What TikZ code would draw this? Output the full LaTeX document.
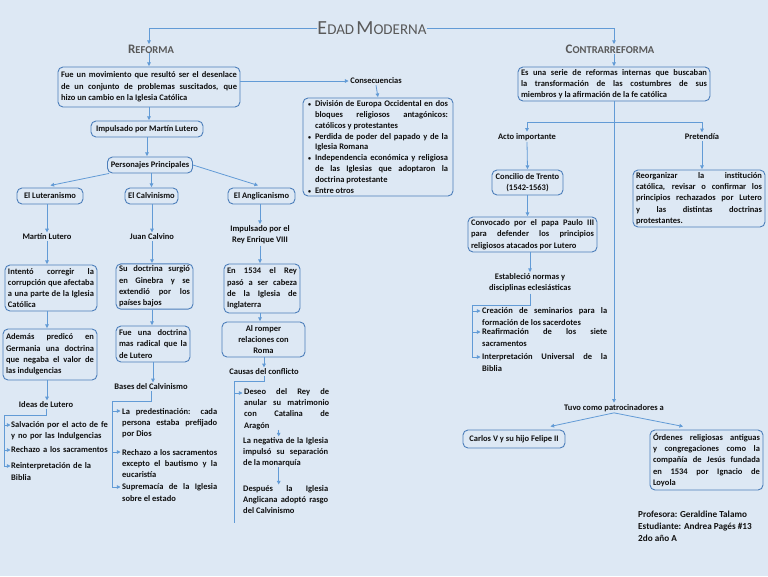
\documentclass[tikz,border=0pt]{standalone}
\usepackage{fontspec}
\setmainfont{Carlito}
\usetikzlibrary{arrows.meta,calc}
\definecolor{bgc}{RGB}{221,232,244}
\definecolor{boxc}{RGB}{76,126,186}
\definecolor{arc}{RGB}{98,155,214}
\definecolor{titc}{RGB}{89,89,89}
\definecolor{txc}{RGB}{15,15,15}
\newcommand{\bodyf}{\fontsize{8.5}{11.3}\selectfont\bfseries\hyphenpenalty=10000\tolerance=10000\emergencystretch=20pt}
\newcommand{\consf}{\fontsize{8.5}{10.8}\selectfont\bfseries\hyphenpenalty=10000\tolerance=10000}
\newcommand{\bitem}[1]{\hangindent=7pt\hangafter=1\noindent\makebox[7pt][l]{\fontsize{6}{6}\selectfont•}#1\par}
\newcommand{\bigC}[2]{{\fontsize{#1}{#1}\selectfont #2}}
\begin{document}
\begin{tikzpicture}[x=1pt,y=-1pt,
  bx/.style={draw=boxc, line width=0.9pt, rounded corners=5pt, inner xsep=3pt, inner ysep=2pt, font=\bodyf, text=txc, align=center},
  jb/.style={bx, align=justify},
  tx/.style={inner sep=1pt, font=\bodyf, text=txc, align=center},
  lt/.style={inner sep=0pt, font=\bodyf, text=txc, align=justify, anchor=west},
  ar/.style={draw=arc, line width=0.8pt, -{Triangle[length=3.6pt,width=3.6pt]}, shorten >=0.5pt},
  ln/.style={draw=arc, line width=0.8pt}]
\fill[bgc] (0,0) rectangle (768,576);
\useasboundingbox (0,0) rectangle (768,576);

% titles
\node[inner sep=0pt, text=titc] (title) at (372,28) {\bigC{20}{E}\bigC{15}{DAD} \bigC{20}{M}\bigC{15}{ODERNA}};
\node[inner sep=0pt, text=titc, font=\bfseries] (reforma) at (151,49) {\bigC{13}{R}\bigC{10.5}{EFORMA}};
\node[inner sep=0pt, text=titc, font=\bfseries] (contra) at (610,49) {\bigC{13}{C}\bigC{10.5}{ONTRARREFORMA}};

% left part
\node[jb, text width=176pt, minimum height=40pt] (b1) at (149,87) {Fue un movimiento que resultó ser el desenlace\linebreak de un conjunto de problemas suscitados, que\linebreak hizo un cambio en la Iglesia Católica};
\node[tx] (conslbl) at (376,81) {Consecuencias};
\node[bx, align=justify, inner xsep=5pt, text width=140pt, minimum height=98pt, font=\consf] (cb) at (378,147) {%
\bitem{División de Europa Occidental en dos\linebreak bloques religiosos antagónicos:\linebreak católicos y protestantes}%
\bitem{Perdida de poder del papado y de la\linebreak Iglesia Romana}%
\bitem{Independencia económica y religiosa\linebreak de las Iglesias que adoptaron la\linebreak doctrina protestante}%
\bitem{Entre otros}};
\node[bx, minimum width=112pt, minimum height=16pt, inner ysep=1pt] (imp) at (147,129) {Impulsado por Martín Lutero};
\node[bx, minimum width=85pt, minimum height=16pt, inner ysep=1pt] (per) at (150,165) {Personajes Principales};
\node[bx, minimum width=66pt, minimum height=16pt, inner ysep=1pt] (lut) at (50,196) {El Luteranismo};
\node[bx, minimum width=53pt, minimum height=16pt, inner ysep=1pt] (cal) at (151.5,196) {El Calvinismo};
\node[bx, minimum width=67pt, minimum height=16pt, inner ysep=1pt] (ang) at (261.5,196) {El Anglicanismo};
\node[tx] (martin) at (47,237) {Martín Lutero};
\node[tx] (juan) at (152,237) {Juan Calvino};
\node[tx] (enrique) at (260,235) {Impulsado por el\\Rey Enrique VIII};
\node[jb, text width=86pt, minimum height=46pt] (intento) at (51,288) {Intentó corregir la\linebreak corrupción que afectaba\linebreak a una parte de la Iglesia\linebreak Católica};
\node[jb, text width=71pt, minimum height=45pt] (sudoc) at (154.5,286.5) {Su doctrina surgió\linebreak en Ginebra y se\linebreak extendió por los\linebreak países bajos};
\node[jb, text width=70pt, minimum height=49pt] (en1534) at (262,288.5) {En 1534 el Rey\linebreak pasó a ser cabeza\linebreak de la Iglesia de\linebreak Inglaterra};
\node[jb, text width=88pt, minimum height=51pt] (ademas) at (50,354.5) {Además predicó en\linebreak Germania una doctrina\linebreak que negaba el valor de\linebreak las indulgencias};
\node[jb, text width=68pt, minimum height=36pt] (fueuna) at (153,344) {Fue una doctrina\linebreak mas radical que la\linebreak de Lutero};
\node[bx, minimum width=83pt, minimum height=35pt] (romper) at (263.5,339.5) {Al romper\\relaciones con\\Roma};
\node[tx] (ideas) at (46,405) {Ideas de Lutero};
\node[tx] (bases) at (151,387) {Bases del Calvinismo};
\node[tx] (causas) at (264,372) {Causas del conflicto};

% lists
\node[lt, text width=97pt, align=left] (s1) at (11,431) {Salvación por el acto de fe\\y no por las Indulgencias};
\node[lt, text width=97pt, align=left] (s2) at (11,450) {Rechazo a los sacramentos};
\node[lt, text width=97pt, align=left] (s3) at (11,471.5) {Reinterpretación de la\\Biblia};
\node[lt, text width=95pt] (p1) at (122,423) {La predestinación: cada\linebreak persona estaba prefijado\linebreak por Dios};
\node[lt, text width=95pt] (p2) at (122,463.5) {Rechazo a los sacramentos\linebreak excepto el bautismo y la\linebreak eucaristía};
\node[lt, text width=95pt] (p3) at (122,492.5) {Supremacía de la Iglesia\linebreak sobre el estado};
\node[lt, text width=85pt] (d1) at (244,409) {Deseo del Rey de\linebreak anular su matrimonio\linebreak con Catalina de\linebreak Aragón};
\node[lt, text width=85pt] (d2) at (243,452) {La negativa de la Iglesia\linebreak impulsó su separación\linebreak de la monarquía};
\node[lt, text width=85pt] (d3) at (243,499.5) {Después la Iglesia\linebreak Anglicana adoptó rasgo\linebreak del Calvinismo};

% right part
\node[jb, text width=186pt, minimum height=34pt] (cbox) at (614,84) {Es una serie de reformas internas que buscaban\linebreak la transformación de las costumbres de sus\linebreak miembros y la afirmación de la fe católica};
\node[tx] (acto) at (527,137) {Acto importante};
\node[tx] (pret) at (702,137) {Pretendía};
\node[bx, minimum width=71pt, minimum height=25pt] (concilio) at (527.5,182.5) {Concilio de Trento\\(1542-1563)};
\node[jb, text width=126pt, minimum height=57pt] (reorg) at (699,198.5) {Reorganizar la institución\linebreak católica, revisar o confirmar los\linebreak principios rechazados por Lutero\linebreak y las distintas doctrinas\linebreak protestantes.};
\node[jb, text width=123pt, minimum height=35pt] (convoc) at (532.5,234.5) {Convocado por el papa Paulo III\linebreak para defender los principios\linebreak religiosos atacados por Lutero};
\node[tx] (estab) at (530,283) {Estableció normas y\\disciplinas eclesiásticas};
\node[lt, text width=125pt] (c1) at (482,316.5) {Creación de seminarios para la\linebreak formación de los sacerdotes};
\node[lt, text width=125pt] (c2) at (482,337.5) {Reafirmación de los siete\linebreak sacramentos};
\node[lt, text width=125pt] (c3) at (482,362.5) {Interpretación Universal de la\linebreak Biblia};
\node[tx] (tuvo) at (614,408) {Tuvo como patrocinadores a};
\node[bx, minimum width=102pt, minimum height=18pt, inner ysep=1pt] (carlos) at (514,439) {Carlos V y su hijo Felipe II};
\node[jb, text width=107pt, minimum height=60pt] (ordenes) at (706.5,460) {Órdenes religiosas antiguas\linebreak y congregaciones como la\linebreak compañía de Jesús fundada\linebreak en 1534 por Ignacio de\linebreak Loyola};
\node[inner sep=0pt, anchor=west, align=left, text=txc, font=\fontsize{9.2}{12}\selectfont\bfseries] (footer) at (638,526) {Profesora: Geraldine Talamo\\Estudiante: Andrea Pagés \#13\\2do año A};

% coordinates
\coordinate (s1f) at ($(s1.west)+(0,-6)$);
\coordinate (s3f) at ($(s3.west)+(0,-5.5)$);
\coordinate (p1f) at ($(p1.west)+(-1,-12)$);
\coordinate (p2f) at ($(p2.west)+(-1,-11.5)$);
\coordinate (p3f) at ($(p3.west)+(-1,-5.5)$);
\coordinate (d1f) at ($(d1.west)+(-1,-16)$);
\coordinate (c1f) at ($(c1.west)+(-1,-5.5)$);
\coordinate (c2f) at ($(c2.west)+(-1,-5.5)$);
\coordinate (c3f) at ($(c3.west)+(-1,-5.5)$);
\coordinate (iL) at (4,415);
\coordinate (bL) at (112,401);
\coordinate (cL) at (234,381);
\coordinate (cE) at (234,523);
\coordinate (eL) at (472,305);
\coordinate (hj) at (614,122);

% connectors
\draw[ar] (title.west) -| (reforma.north -| b1.north);
\draw[ar] (title.east) -| (contra.north -| cbox.north);
\draw[ar] (reforma.south -| b1.north) -- (b1.north);
\draw[ar] (contra.south -| cbox.north) -- (cbox.north);
\draw[ar] (b1.east |- conslbl.west) -- (conslbl.west);
\draw[ar] (conslbl.south) -- (cb.north);
\draw[ar] (b1.south) -- (b1.south |- imp.north);
\draw[ar] (imp.south) -- (imp.south |- per.north);
\draw[ar] ([xshift=2pt]per.south west) -- ([yshift=2pt]lut.north);
\draw[ar] (cal.north |- per.south) -- (cal.north);
\draw[ar] (per.east) -- ([xshift=-3pt,yshift=2pt]ang.north);
\draw[ar] (lut.south -| martin.north) -- (martin.north);
\draw[ar] (cal.south -| juan.north) -- (juan.north);
\draw[ar] (ang.south -| enrique.north) -- (enrique.north);
\draw[ar] (martin.south) -- (martin.south |- intento.north);
\draw[ar] (juan.south) -- (juan.south |- sudoc.north);
\draw[ar] (enrique.south) -- (enrique.south |- en1534.north);
\draw[ar] (intento.south -| martin.south) -- (martin.south |- ademas.north);
\draw[ar] (sudoc.south -| juan.south) -- (juan.south |- fueuna.north);
\draw[ar] (en1534.south -| enrique.south) -- (enrique.south |- romper.north);
\draw[ar] (ademas.south -| martin.south) -- (martin.south |- ideas.north);
\draw[ar] (fueuna.south) -- (fueuna.south |- bases.north);
\draw[ar] (romper.south -| causas.north) -- (causas.north);
% brackets
\draw[ar] (ideas.south) |- (iL) |- (s3f);
\draw[ar] (iL |- s1f) -- (s1f);
\draw[ar] (iL |- s2.west) -- (s2.west);
\draw[ar] (bases.south) |- (bL) |- (p3f);
\draw[ar] (bL |- p1f) -- (p1f);
\draw[ar] (bL |- p2f) -- (p2f);
\draw[ln] (causas.south) |- (cL) -- (cE);
\draw[ar] (cL |- d1f) -- (d1f);
\draw[ar] ([xshift=-8pt]d1.south) -- ([xshift=-7pt]d2.north);
\draw[ar] ([xshift=-7pt]d2.south) -- ([xshift=-7pt]d3.north);
% right connectors
\draw[ln] (cbox.south) -- (hj);
\draw[ar] (hj) -| (acto.north);
\draw[ar] (hj) -| (pret.north);
\draw[ar] (hj) -- (tuvo.north);
\draw[ar] (acto.south) -- (concilio.north);
\draw[ar] (pret.south) -- (pret.south |- reorg.north);
\draw[ar] (concilio.south) -- (concilio.south |- convoc.north);
\draw[ar] (convoc.south -| estab.north) -- (estab.north);
\draw[ar] (estab.south) |- (eL) |- (c3f);
\draw[ar] (eL |- c1f) -- (c1f);
\draw[ar] (eL |- c2f) -- (c2f);
\draw[ar] (tuvo.south) -- ([xshift=36pt,yshift=3pt]carlos.north);
\draw[ar] (tuvo.south) -- ([xshift=-23pt,yshift=3pt]ordenes.north);
\end{tikzpicture}
\end{document}
